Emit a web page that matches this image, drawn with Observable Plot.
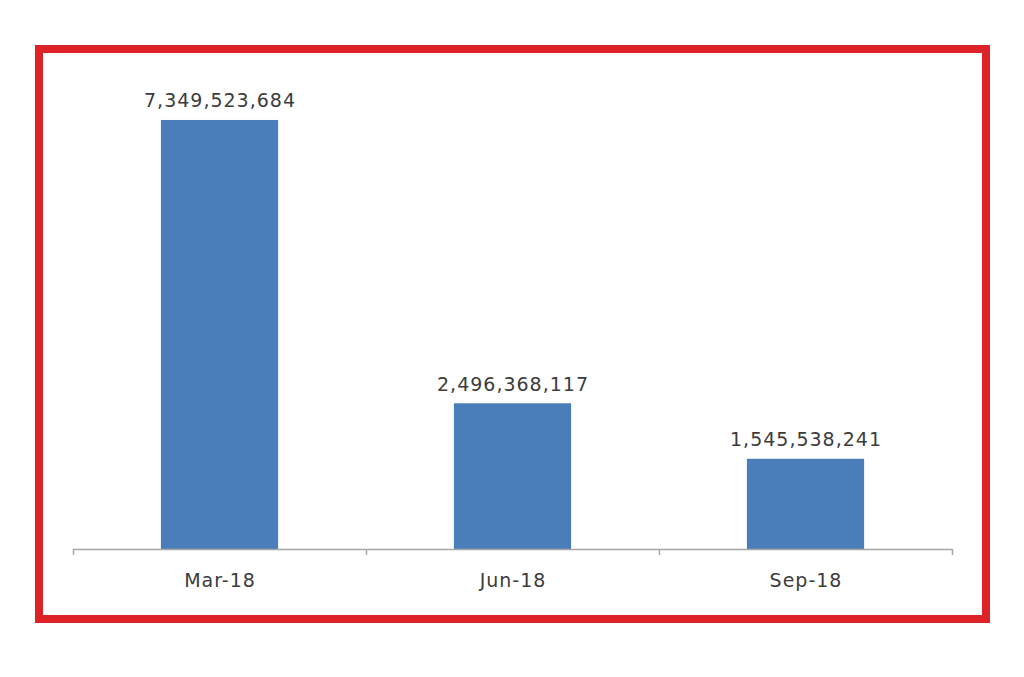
<!DOCTYPE html>
<html>
<head>
<meta charset="utf-8">
<script src="https://cdn.jsdelivr.net/npm/d3@7"></script>
<script src="https://cdn.jsdelivr.net/npm/@observablehq/plot@0.6"></script>
<style>
  html, body { margin: 0; padding: 0; background: #ffffff; }
  body { width: 1024px; height: 677px; position: relative; overflow: hidden; }
  #frame {
    position: absolute; left: 35px; top: 45px; width: 955px; height: 578px;
    border: 8px solid #dd2228; box-sizing: border-box; background: #fff;
  }
  #frame svg { display: block; }
  #frame svg text { letter-spacing: 1px; }
</style>
</head>
<body>
<div id="frame"></div>
<script>
const categories = ["Mar-18", "Jun-18", "Sep-18"];
const values = [7349523684, 2496368117, 1545538241];
const valueLabels = ["7,349,523,684", "2,496,368,117", "1,545,538,241"];

const data = categories.map((c, i) => ({category: c, index: i, value: values[i], label: valueLabels[i]}));
const boundaries = d3.range(categories.length + 1);
const centers = categories.map((c, i) => i + 0.5);

const font = "DejaVu Sans, sans-serif";
const textColor = "#3c3c3c";

const chart = Plot.plot({
  width: 939,
  height: 562,
  marginLeft: 30,
  marginRight: 30,
  marginTop: 29,
  marginBottom: 66,
  style: {fontFamily: font, background: "#fff"},
  x: {type: "linear", domain: [0, categories.length]},
  y: {domain: [0, 8e9], axis: null},
  marks: [
    Plot.rectY(data, {x1: d => d.index + 0.3, x2: d => d.index + 0.7, y: "value", fill: "#4a7ebb"}),
    Plot.ruleY([0], {stroke: "#a6a6a6", strokeWidth: 1.5}),
    Plot.axisX({ticks: boundaries, tickSize: 6, tickFormat: () => "", stroke: "#a6a6a6", strokeWidth: 1.5}),
    Plot.axisX({ticks: centers, tickSize: 0, tickPadding: 24, tickFormat: v => categories[Math.floor(v)],
      fontSize: 19, fill: textColor, label: null}),
    Plot.text(data, {x: d => d.index + 0.5, y: "value", text: "label", lineAnchor: "bottom", dy: -13,
      fontSize: 19, fill: textColor})
  ]
});
document.getElementById("frame").appendChild(chart);
</script>
</body>
</html>
